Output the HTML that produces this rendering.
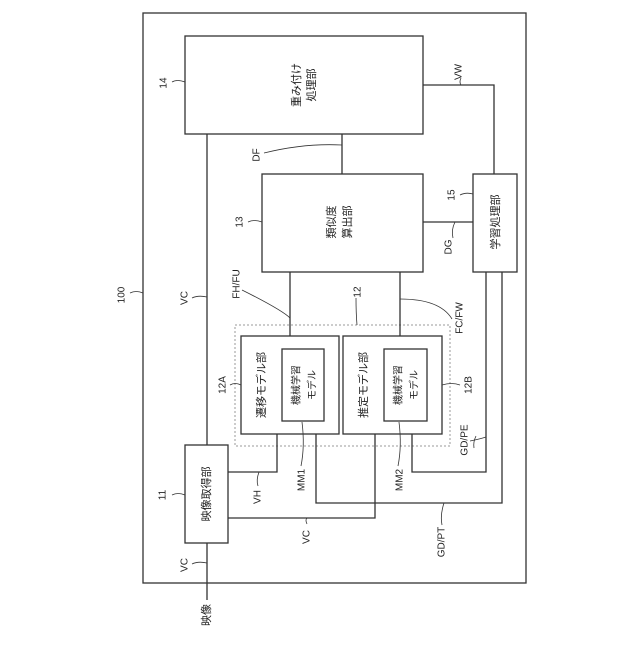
<!DOCTYPE html>
<html><head><meta charset="utf-8"><style>html,body{margin:0;padding:0;background:#fff}</style></head>
<body>
<svg width="640" height="640" viewBox="0 0 640 640" xmlns="http://www.w3.org/2000/svg" font-family="'Liberation Sans','Noto Sans CJK JP',sans-serif" font-size="10" fill="#222">
<g fill="none" stroke="#333" stroke-width="1.3">
<rect x="143" y="13" width="383" height="570"/>
<rect x="185" y="36" width="238" height="98"/>
<rect x="262" y="174" width="161" height="98"/>
<rect x="473" y="174" width="44" height="98"/>
<rect x="185" y="445" width="43" height="98"/>
<rect x="235" y="325" width="215" height="121" stroke="#999" stroke-dasharray="2,2" stroke-width="1"/>
<rect x="241" y="336" width="98" height="98"/>
<rect x="282" y="349" width="42" height="72"/>
<rect x="343" y="336" width="99" height="98"/>
<rect x="384" y="349" width="43" height="72"/>
<path d="M342 134V174M423 85H494V174M423 222H473M207 134V445M290 272V336M400 272V336M228 472H277V434M228 518H375V434M316 434V503H502V272M412 434V472H486V272M207 543V600"/>
<g stroke-width="0.8">
<path d="M172 82q5 -3 13 0"/>
<path d="M264 153q40 -10 78 -8"/>
<path d="M461 78q-2 4 0 7"/>
<path d="M248 222q6 -3 14 0"/>
<path d="M460 195q6 -3 13 -1"/>
<path d="M453 238q-2 -8 2 -16"/>
<path d="M192 298q6 -3 15 -1"/>
<path d="M242 290q40 20 48 28"/>
<path d="M356 298q0 15 1 27"/>
<path d="M400 299q40 0 52 20"/>
<path d="M130 293q6 -3 13 0"/>
<path d="M230 385q5 -3 11 0"/>
<path d="M442 385q10 -3 18 0"/>
<path d="M476 436q-3 6 -2 12"/>
<path d="M470 441q10 -2 16 -4"/>
<path d="M172 495q6 -3 13 0"/>
<path d="M258 486q-2 -6 1 -14"/>
<path d="M301 466q4 -20 1 -44"/>
<path d="M398 466q4 -20 1 -44"/>
<path d="M307 524q-2 -4 0 -6"/>
<path d="M442 525q-2 -10 2 -22"/>
<path d="M192 564q6 -3 15 -1"/>
</g>
</g>
<g text-anchor="middle" dominant-baseline="central">
<g font-size="11">
<text transform="translate(297,85) rotate(-90)">重み付け</text>
<text transform="translate(312,85) rotate(-90)">処理部</text>
<text transform="translate(332,222) rotate(-90)">類似度</text>
<text transform="translate(348,222) rotate(-90)">算出部</text>
<text transform="translate(496,222) rotate(-90)">学習処理部</text>
<text transform="translate(207,494) rotate(-90)">映像取得部</text>
<text transform="translate(262,385) rotate(-90)">遷移モデル部</text>
<text transform="translate(364,385) rotate(-90)">推定モデル部</text>
<text transform="translate(207,615) rotate(-90)">映像</text>
</g>
<text transform="translate(297,385) rotate(-90)">機械学習</text>
<text transform="translate(313,385) rotate(-90)">モデル</text>
<text transform="translate(399,385) rotate(-90)">機械学習</text>
<text transform="translate(415,385) rotate(-90)">モデル</text>
<text transform="translate(164,83) rotate(-90)">14</text>
<text transform="translate(257,155) rotate(-90)">DF</text>
<text transform="translate(459,72) rotate(-90)">VW</text>
<text transform="translate(240,222) rotate(-90)">13</text>
<text transform="translate(452,195) rotate(-90)">15</text>
<text transform="translate(449,247) rotate(-90)">DG</text>
<text transform="translate(185,298) rotate(-90)">VC</text>
<text transform="translate(237,284) rotate(-90)">FH/FU</text>
<text transform="translate(358,292) rotate(-90)">12</text>
<text transform="translate(460,318) rotate(-90)">FC/FW</text>
<text transform="translate(122,295) rotate(-90)">100</text>
<text transform="translate(223,385) rotate(-90)">12A</text>
<text transform="translate(469,385) rotate(-90)">12B</text>
<text transform="translate(465,440) rotate(-90)">GD/PE</text>
<text transform="translate(163,495) rotate(-90)">11</text>
<text transform="translate(258,497) rotate(-90)">VH</text>
<text transform="translate(302,480) rotate(-90)">MM1</text>
<text transform="translate(400,480) rotate(-90)">MM2</text>
<text transform="translate(307,537) rotate(-90)">VC</text>
<text transform="translate(442,542) rotate(-90)">GD/PT</text>
<text transform="translate(185,565) rotate(-90)">VC</text>
</g>
</svg>
</body></html>
